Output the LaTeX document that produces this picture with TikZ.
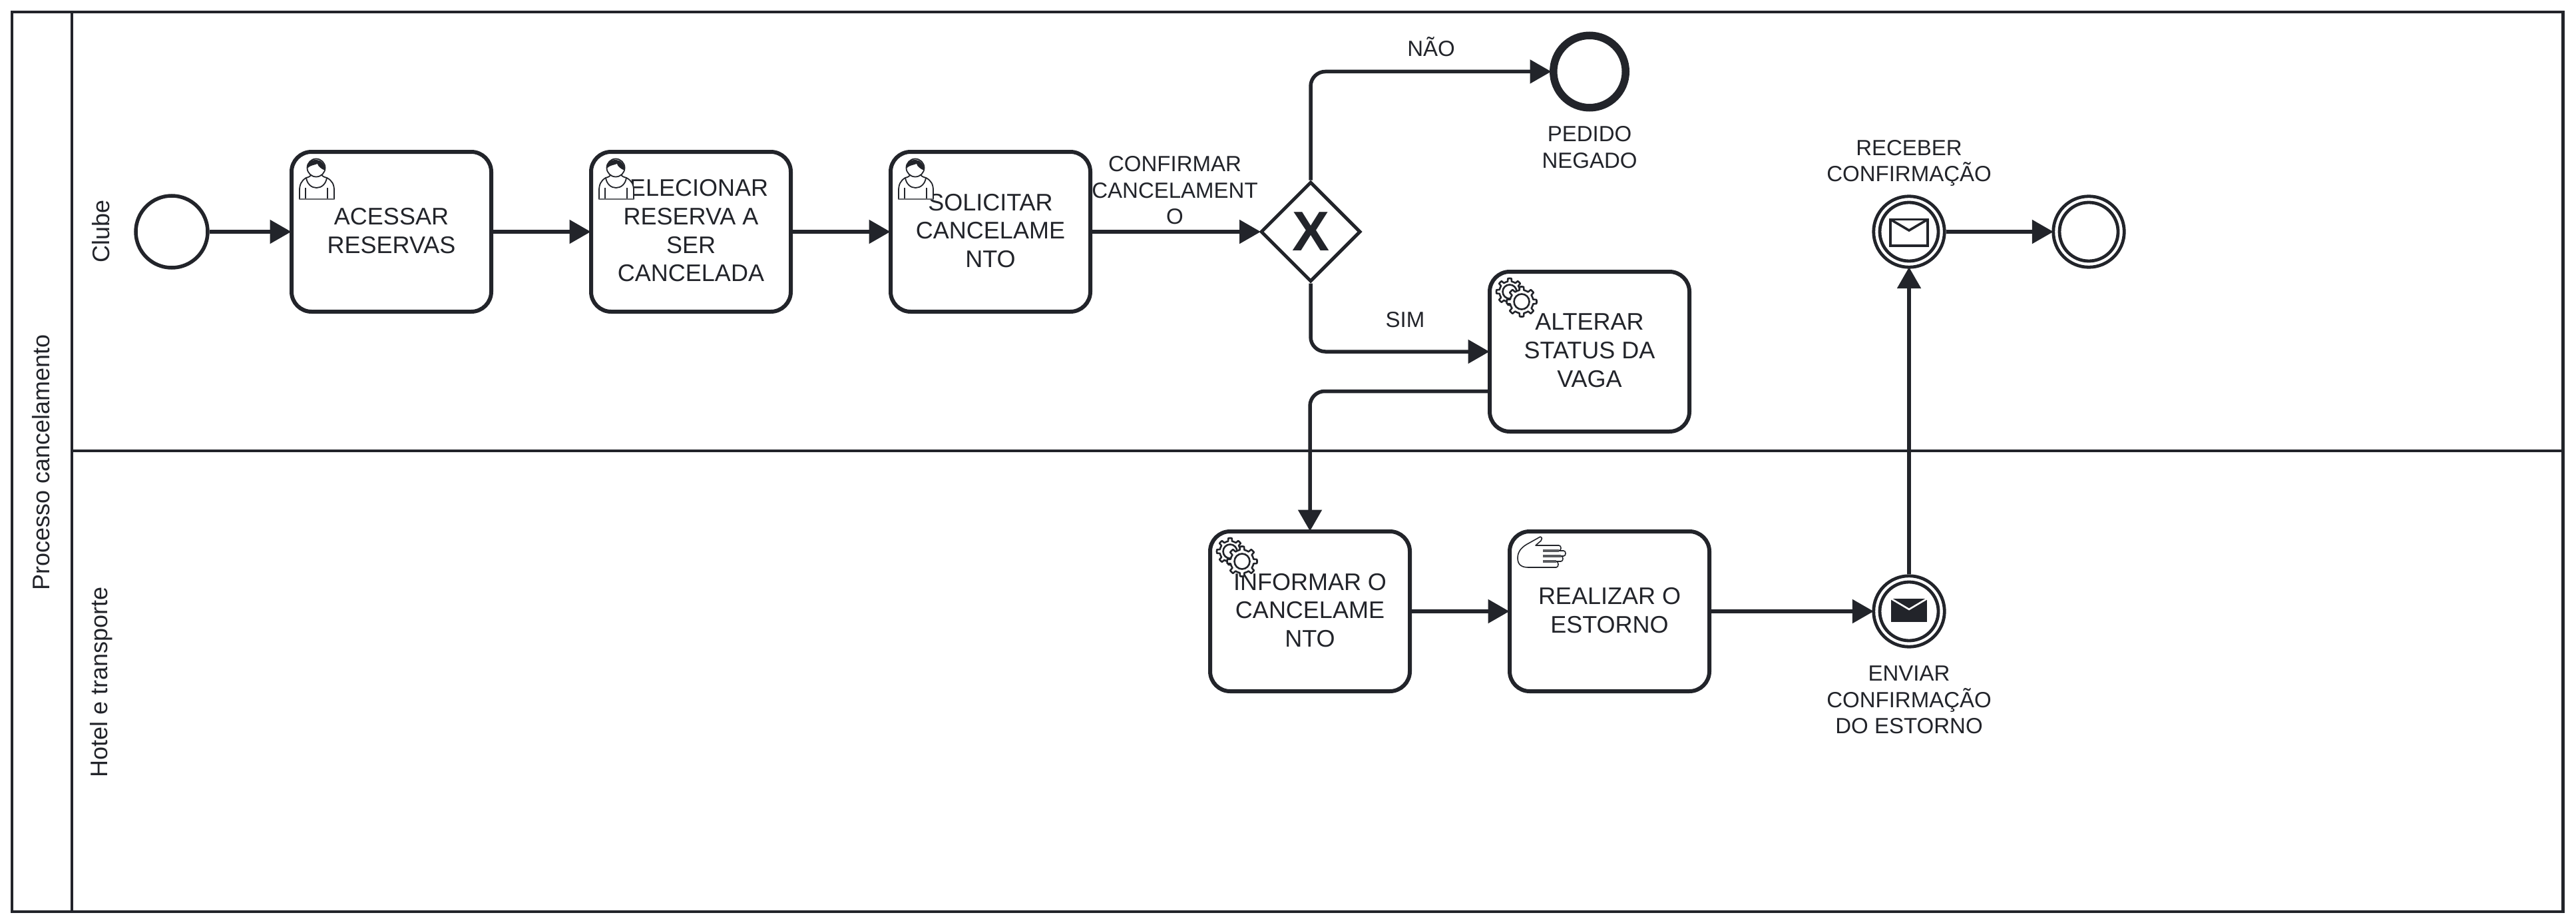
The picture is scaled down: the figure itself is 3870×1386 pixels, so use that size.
\documentclass[tikz,border=0pt]{standalone}
\usepackage{fontspec}
\setmainfont{Liberation Sans}
\usetikzlibrary{arrows.meta,shapes.geometric}
\definecolor{ink}{HTML}{22242A}
\tikzset{
  x=1pt,y=-1pt,
  every node/.style={text=ink,inner sep=0pt},
  frameline/.style={draw=ink,line width=4.9pt,outer sep=0pt},
  taskbox/.style={draw=ink,fill=white,line width=6pt,rounded corners=30pt,minimum width=300pt,minimum height=240pt,text depth=3.5pt,align=center,font=\fontsize{36}{42.7}\selectfont},
  evcircle/.style={circle,draw=ink,fill=white,minimum size=108pt},
  startev/.style={evcircle,line width=5.5pt},
  endev/.style={circle,draw=ink,fill=white,minimum size=108.5pt,line width=11.5pt},
  ringev/.style={evcircle,line width=4.8pt,minimum size=106.5pt},
  ringin/.style={circle,draw=ink,line width=4.8pt,minimum size=88pt},
  gate/.style={diamond,aspect=1,draw=ink,fill=white,line width=5pt,minimum width=150pt,minimum height=150pt,font=\fontsize{84}{84}\selectfont\bfseries},
  small/.style={align=center,font=\fontsize{33}{39.5}\selectfont},
  lanelabel/.style={rotate=90,font=\fontsize{36}{40}\selectfont},
  flow/.style={draw=ink,line width=5.5pt,rounded corners=22pt,shorten >=-2.5pt,-{Triangle[length=32pt,width=35pt]}},
  usericon/.pic={
    \draw[ink,line width=1.8pt,fill=white,line join=round]
      (-15,14) .. controls (-22,18) and (-25,24) .. (-25,33) -- (-25,46) -- (27,46) -- (27,33) .. controls (27,24) and (24,18) .. (16,14);
    \draw[ink,line width=1.8pt,fill=white] (-8,8) .. controls (-7,12) and (-12,13) .. (-15,14) .. controls (-12,34) and (13,34) .. (16,14) .. controls (13,13) and (8,12) .. (8,8);
    \draw[ink,line width=1.8pt,fill=white] (0,-1) circle (13.5);
    \fill[ink] (-13.5,0) .. controls (-14,-18) and (14,-18) .. (13.5,3) .. controls (8,1) and (3,-3) .. (2,-7) .. controls (-3,-5) and (-9,-5) .. (-13.5,0) -- cycle;
    \draw[ink,line width=1.8pt] (-16,29) -- (-16,46) (17,29) -- (17,46);
    \draw[ink!70,line width=2.4pt] (-25,46) -- (27,46);
  },
  handicon/.pic={
    \draw[ink,line width=1.6pt,fill=white,line join=round]
      (34,0) .. controls (37,1) and (37,4) .. (35,6) -- (27,13) -- (62,13)
      .. controls (66,13) and (66,21) .. (62,21) -- (69,21)
      .. controls (73,21) and (73,29) .. (69,29) -- (65,29)
      .. controls (69,29) and (69,37) .. (65,37) -- (58,37)
      .. controls (62,37) and (62,46) .. (58,46) -- (16,46)
      .. controls (6,46) and (0,42) .. (0,32) .. controls (0,22) and (6,15) .. (18,9) -- cycle;
    \draw[ink!75,line width=3.2pt] (38,21) -- (62,21) (38,29) -- (65,29) (38,37) -- (58,37);
  },
  gearicon/.pic={
    \begin{scope}[shift={(-18,-15)}]
    \draw[ink,line width=2.6pt,fill=white,line join=round] plot[domain=0:360,samples=97] (\x:{mod(\x+11,45)<22 ? 20 : 15.5}) -- cycle;
    \draw[ink,line width=2.6pt,fill=white] (0,0) circle (10.5);
    \end{scope}
    \draw[ink,line width=2.6pt,fill=white,line join=round] plot[domain=0:360,samples=97] (\x:{mod(\x+11,45)<22 ? 22.5 : 17.5}) -- cycle;
    \draw[ink,line width=2.6pt,fill=white] (0,0) circle (11.5);
  },
}
\begin{document}
\begin{tikzpicture}
\useasboundingbox (0,0) rectangle (3870,1386);
% pool and lanes
\node[frameline,rectangle,anchor=north west,minimum width=3832pt,minimum height=1351pt] (pool) at (18,18) {};
\coordinate (laneTop) at (108,18);
\coordinate (laneBot) at (108,1369);
\coordinate (divL) at (108,677);
\coordinate (divR) at (3850,677);
\draw[draw=ink,line width=4.9pt] (laneTop) -- (laneBot);
\draw[draw=ink,line width=4.9pt] (divL) -- (divR);
\node[lanelabel] (lp) at (62,694) {Processo cancelamento};
\node[lanelabel] (l1) at (152,347) {Clube};
\node[lanelabel] (l2) at (152,1024) {Hotel e transporte};
% nodes
\node[startev] (s) at (258,348) {};
\node[taskbox] (t1) at (588,348) {ACESSAR\\RESERVAS};
\node[taskbox] (t2) at (1038,348) {SELECIONAR\\RESERVA A\\SER\\CANCELADA};
\node[taskbox] (t3) at (1488,348) {SOLICITAR\\CANCELAME\\NTO};
\node[gate] (gw) at (1969,348) {X};
\node[endev] (e1) at (2388,107.5) {};
\node[taskbox] (t4) at (2388,528) {ALTERAR\\STATUS DA\\VAGA};
\node[taskbox] (t5) at (1968,918) {INFORMAR O\\CANCELAME\\NTO};
\node[taskbox] (t6) at (2418,918) {REALIZAR O\\ESTORNO};
\node[ringev] (m1) at (2868,918) {};
\node[ringin] (m1i) at (2868,918) {};
\node[ringev] (m2) at (2868,348) {};
\node[ringin] (m2i) at (2868,348) {};
\node[ringev] (e2) at (3138,348) {};
\node[ringin] (e2i) at (3138,348) {};
% message glyphs
\draw[ink,line width=3.6pt,fill=white] ([shift={(-28,-18.5)}]m2.center) rectangle ([shift={(28,21)}]m2.center);
\draw[ink,line width=3.6pt] ([shift={(-28,-18.5)}]m2.center) -- ([shift={(0,-2)}]m2.center) -- ([shift={(28,-18.5)}]m2.center);
\fill[ink] ([shift={(-27,-19)}]m1.center) rectangle ([shift={(27,16)}]m1.center);
\draw[white,line width=2.6pt] ([shift={(-27,-19)}]m1.center) -- ([shift={(0,-3)}]m1.center) -- ([shift={(27,-19)}]m1.center);
% icons
\pic at ([shift={(-113,-95)}]t1.center) {usericon};
\pic at ([shift={(-113,-95)}]t2.center) {usericon};
\pic at ([shift={(-113,-95)}]t3.center) {usericon};
\pic at ([shift={(-102,-75)}]t4.center) {gearicon};
\pic at ([shift={(-102,-75)}]t5.center) {gearicon};
\pic at ([shift={(-138,-112)}]t6.center) {handicon};
% flows
\draw[flow] (s) -- (t1);
\draw[flow] (t1) -- (t2);
\draw[flow] (t2) -- (t3);
\draw[flow] (t3) -- (gw);
\draw[flow] (gw.north) |- (e1.west);
\draw[flow] (gw.south) |- (t4.west);
\draw[flow] ([shift={(0,59.5)}]t4.west) -| (t5.north);
\draw[flow] (t5) -- (t6);
\draw[flow] (t6) -- (m1);
\draw[flow] (m1) -- (m2);
\draw[flow] (m2) -- (e2);
% labels
\node[small] (lc) at (1765,286) {CONFIRMAR\\CANCELAMENT\\O};
\node[small] (ln) at (2150,70) {NÃO};
\node[small] (ls) at (2111,480) {SIM};
\node[small] (lpn) at (2388,221) {PEDIDO\\NEGADO};
\node[small] (lr) at (2868,245) {RECEBER\\CONFIRMAÇÃO};
\node[small] (le) at (2868,1051) {ENVIAR\\CONFIRMAÇÃO\\DO ESTORNO};
\end{tikzpicture}
\end{document}
